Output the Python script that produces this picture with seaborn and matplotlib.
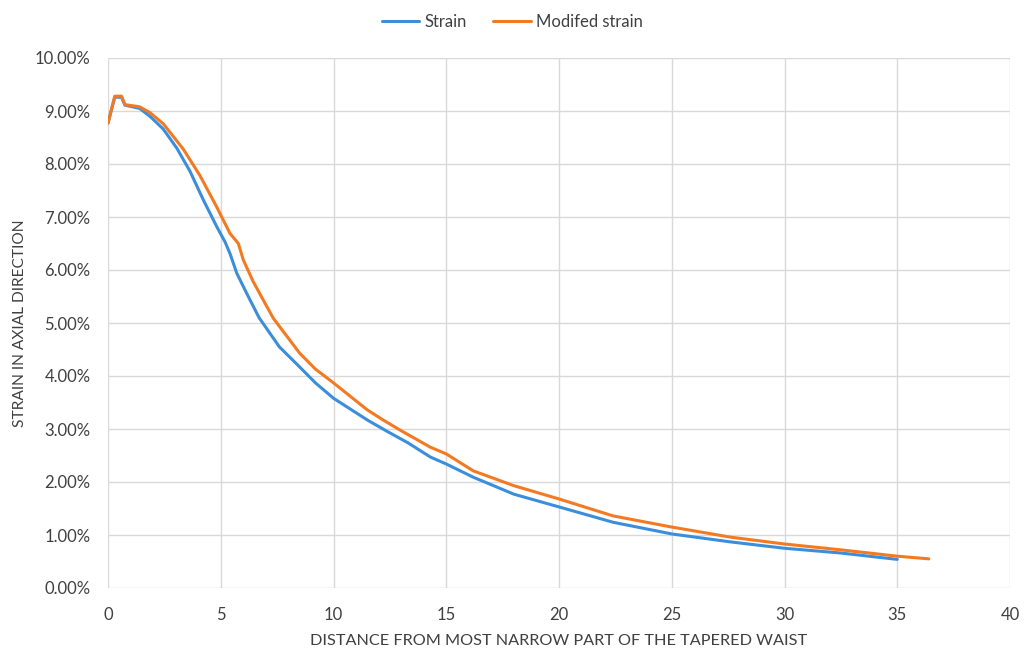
import matplotlib
matplotlib.use("Agg")
import matplotlib.pyplot as plt
import seaborn as sns
import pandas as pd
from matplotlib.ticker import FuncFormatter, MultipleLocator

strain_x = [0, 0.3, 0.6, 0.75, 1.4, 1.86, 2.45, 3.05, 3.64, 4.23, 4.82, 5.19, 5.41, 5.71, 6.15,
            6.7, 7.6, 8.5, 9.2, 10, 11.5, 12.4, 13.3, 14.3, 15, 16.2, 18, 20, 22.4, 25, 27.6,
            30, 32.5, 35]
strain_y = [8.77, 9.26, 9.26, 9.11, 9.05, 8.90, 8.66, 8.30, 7.86, 7.32, 6.82, 6.53, 6.31, 5.94, 5.56,
            5.10, 4.55, 4.17, 3.87, 3.58, 3.17, 2.95, 2.74, 2.47, 2.34, 2.09, 1.77, 1.53, 1.24, 1.02, 0.87,
            0.75, 0.66, 0.54]

mod_x = [0, 0.3, 0.6, 0.75, 1.4, 1.86, 2.45, 3.34, 4.08, 4.82, 5.41, 5.78, 6.0, 6.44, 6.89, 7.33,
         8.5, 9.2, 10, 11.5, 12.2, 12.95, 14.28, 15, 16.2, 18, 20, 22.4, 25, 27.6, 30, 32.5, 35, 36.4]
mod_y = [8.77, 9.28, 9.28, 9.12, 9.08, 8.97, 8.76, 8.28, 7.78, 7.19, 6.69, 6.50, 6.19, 5.78, 5.43, 5.09,
         4.43, 4.13, 3.87, 3.36, 3.17, 2.98, 2.66, 2.53, 2.21, 1.93, 1.68, 1.36, 1.15, 0.96, 0.83, 0.72, 0.6, 0.55]

series_names = ["Strain", "Modifed strain"]
colors = ["#3B8EDB", "#F47A22"]

sns.set_style("white")
plt.rcParams["font.family"] = ["Lato", "DejaVu Sans"]

fig = plt.figure(figsize=(10.32, 6.57), dpi=100)
ax = fig.add_axes([108 / 1032, 1 - 588 / 657, (1010 - 108) / 1032, (588 - 58) / 657])

df1 = pd.DataFrame({"x": strain_x, "y": strain_y})
df2 = pd.DataFrame({"x": mod_x, "y": mod_y})
sns.lineplot(data=df1, x="x", y="y", ax=ax, color=colors[0], lw=2.2, label=series_names[0], sort=False)
sns.lineplot(data=df2, x="x", y="y", ax=ax, color=colors[1], lw=2.2, label=series_names[1], sort=False)

ax.set_xlim(0, 40)
ax.set_ylim(0, 10)
ax.xaxis.set_major_locator(MultipleLocator(5))
ax.yaxis.set_major_locator(MultipleLocator(1))
ax.yaxis.set_major_formatter(FuncFormatter(lambda v, p: f"{v:.2f}%"))
ax.grid(True, color="#d9d9d9", lw=1)
for s in ax.spines.values():
    s.set_visible(False)
ax.tick_params(length=0, labelsize=12, colors="#404040")
ax.tick_params(axis="y", pad=12.5)
ax.tick_params(axis="x", pad=13.5)
ax.set_xlabel("DISTANCE FROM MOST NARROW PART OF THE TAPERED WAIST", fontsize=11.7, color="#404040", labelpad=8)
ax.set_ylabel("STRAIN IN AXIAL DIRECTION", fontsize=11.2, color="#404040", labelpad=6)

leg = ax.legend(loc="lower center", bbox_to_anchor=(0.448, 1.025), ncol=2, frameon=False,
                fontsize=12, handlelength=2.25, columnspacing=1.6, handletextpad=0.3)
for t in leg.get_texts():
    t.set_color("#404040")

fig.savefig("out.png", dpi=100, facecolor="white")
